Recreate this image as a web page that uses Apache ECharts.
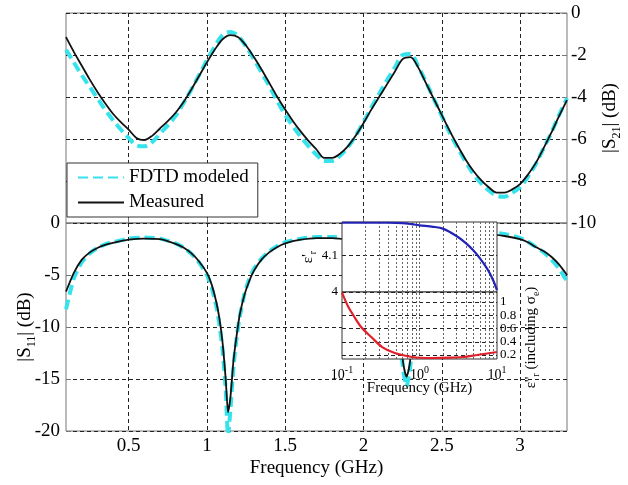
<!DOCTYPE html>
<html><head><meta charset="utf-8">
<script src="https://cdn.jsdelivr.net/npm/echarts@6/dist/echarts.min.js"></script>
<style>html,body{margin:0;padding:0;background:#fff}#c{width:628px;height:485px}</style>
</head><body><div id="c"></div>
<script>
// ---- data ----
const freqS21 = [0.1,0.15,0.2,0.25,0.3,0.35,0.4,0.45,0.5,0.55,0.6,0.65,0.7,0.75,0.8,0.85,0.9,0.95,1.0,1.05,1.1,1.15,1.2,1.25,1.3,1.35,1.4,1.45,1.5,1.55,1.6,1.65,1.7,1.75,1.8,1.85,1.9,1.95,2.0,2.05,2.1,2.15,2.2,2.25,2.3,2.35,2.4,2.45,2.5,2.55,2.6,2.65,2.7,2.75,2.8,2.85,2.9,2.95,3.0,3.05,3.1,3.15,3.2,3.25,3.3];
const s21Measured = [-1.15,-1.85,-2.5,-3.15,-3.75,-4.3,-4.8,-5.2,-5.55,-5.95,-6.05,-5.85,-5.5,-5.15,-4.75,-4.25,-3.65,-3.0,-2.35,-1.75,-1.25,-1.05,-1.15,-1.55,-2.1,-2.7,-3.35,-4.0,-4.6,-5.15,-5.65,-6.1,-6.5,-6.9,-6.9,-6.7,-6.35,-5.85,-5.25,-4.6,-4.0,-3.4,-2.8,-2.2,-2.1,-2.6,-3.35,-4.1,-4.85,-5.6,-6.3,-6.95,-7.5,-7.95,-8.3,-8.55,-8.55,-8.4,-8.15,-7.7,-7.15,-6.45,-5.7,-4.9,-4.15];
const s21Fdtd = [-1.75,-2.35,-2.95,-3.5,-4.05,-4.6,-5.1,-5.55,-5.95,-6.3,-6.35,-6.15,-5.75,-5.35,-4.9,-4.3,-3.65,-2.95,-2.25,-1.6,-1.05,-0.9,-1.1,-1.6,-2.2,-2.85,-3.5,-4.2,-4.85,-5.4,-5.9,-6.35,-6.75,-7.05,-7.05,-6.8,-6.4,-5.85,-5.2,-4.5,-3.85,-3.2,-2.6,-2.0,-1.95,-2.55,-3.3,-4.1,-4.9,-5.7,-6.4,-7.05,-7.65,-8.1,-8.45,-8.7,-8.75,-8.55,-8.3,-7.8,-7.2,-6.45,-5.7,-4.85,-4.05];

const freqS11 = [0.1,0.15,0.2,0.25,0.3,0.35,0.4,0.5,0.6,0.7,0.8,0.85,0.9,0.95,1.0,1.03,1.06,1.08,1.1,1.12,1.135,1.15,1.17,1.19,1.21,1.24,1.27,1.3,1.35,1.4,1.45,1.5,1.6,1.7,1.8,1.9,2.0,2.05,2.1,2.15,2.18,2.21,2.24,2.255,2.275,2.295,2.31,2.34,2.37,2.4,2.45,2.5,2.6,2.7,2.8,2.9,3.0,3.05,3.1,3.15,3.2,3.25,3.3];
const s11Measured = [-6.6,-4.8,-3.55,-2.85,-2.4,-2.1,-1.9,-1.6,-1.5,-1.55,-2.0,-2.35,-2.9,-3.7,-4.8,-5.9,-7.6,-9.2,-11.5,-15.0,-18.2,-16.8,-13.2,-10.8,-8.8,-6.9,-5.6,-4.6,-3.5,-2.8,-2.3,-1.95,-1.6,-1.45,-1.45,-1.6,-1.9,-2.2,-2.8,-3.9,-5.0,-7.5,-11.5,-13.6,-14.8,-13.6,-11.5,-7.5,-5.0,-3.9,-2.7,-2.0,-1.45,-1.2,-1.1,-1.25,-1.55,-1.85,-2.3,-2.7,-3.25,-4.0,-5.0];
const s11Fdtd = [-8.3,-5.3,-3.8,-2.95,-2.4,-2.05,-1.85,-1.5,-1.4,-1.5,-1.95,-2.35,-2.95,-3.8,-5.0,-6.2,-8.0,-9.8,-12.2,-16.0,-20.5,-18.0,-13.8,-11.0,-9.0,-6.8,-5.4,-4.4,-3.4,-2.7,-2.2,-1.85,-1.5,-1.35,-1.35,-1.5,-1.8,-2.1,-2.7,-3.8,-5.0,-7.8,-12.0,-14.3,-15.7,-14.3,-12.0,-7.8,-5.0,-3.8,-2.6,-1.9,-1.3,-1.0,-0.9,-1.05,-1.45,-1.8,-2.3,-2.8,-3.5,-4.4,-5.6];

const freqEpsReal = [0.1,0.2,0.4,0.6,0.8,1,1.5,2,3,4,5,6,7,8,9,10];
const epsReal = [4.188,4.188,4.188,4.187,4.184,4.181,4.177,4.172,4.152,4.132,4.112,4.092,4.072,4.052,4.03,4.005];
const freqEpsImag = [0.1,0.12,0.147,0.18,0.244,0.33,0.48,0.8,1.45,2.5,3.6,5.5,10];
const epsImag = [1.14,0.93,0.76,0.61,0.46,0.32,0.23,0.17,0.155,0.16,0.17,0.2,0.245];

const mainTicksX = [0.5,1,1.5,2,2.5,3];
const insetMinorX = [0.2,0.3,0.4,0.5,0.6,0.7,0.8,0.9,1,2,3,4,5,6,7,8,9];
const insetTicksReal = [4, 4.1];
const insetTicksImag = [0.2,0.4,0.6,0.8,1];

// ---- chart ----
const zip = (xs, ys) => xs.map((x, i) => [x, ys[i]]);
const FF = 'Liberation Serif';
const CYAN = '#36e3ec';
const gridDash = {show: true, lineStyle: {color: '#222', type: [4, 3], width: 1}};
const mainLbl = {color: '#000', fontFamily: FF, fontSize: 19};
const insLbl = {color: '#000', fontFamily: FF, fontSize: 13, lineHeight: 13,
  showMinLabel: true, showMaxLabel: true, hideOverlap: false};
const richMain = {
  n: {fontFamily: FF, fontSize: 19, lineHeight: 26, color: '#000'},
  s: {fontFamily: FF, fontSize: 12, lineHeight: 12, verticalAlign: 'bottom', color: '#000'}
};
const richIns = {
  n: {fontFamily: FF, fontSize: 15, lineHeight: 20, color: '#000'},
  s: {fontFamily: FF, fontSize: 10, lineHeight: 10, verticalAlign: 'bottom', color: '#000'}
};

const minorLines = {
  silent: true, z: 6, animation: false,
  symbol: ['none', 'none'], label: {show: false},
  lineStyle: {color: '#666', type: [2, 2], width: 1},
  emphasis: {disabled: true},
  data: insetMinorX.map(v => ({xAxis: v}))
};

const option = {
  animation: false,
  backgroundColor: '#fff',
  grid: [
    {left: 66, top: 13, width: 501, height: 210, show: true, borderColor: '#777', borderWidth: 1, outerBoundsMode: 'none'},
    {left: 66, top: 223, width: 501, height: 208, show: true, borderColor: '#777', borderWidth: 1, outerBoundsMode: 'none'},
    {left: 342, top: 222, width: 155, height: 70, show: true, backgroundColor: '#fff', borderColor: '#333', borderWidth: 1, z: 5, outerBoundsMode: 'none'},
    {left: 342, top: 292, width: 155, height: 67, show: true, backgroundColor: '#fff', borderColor: '#333', borderWidth: 1, z: 5, outerBoundsMode: 'none'}
  ],
  legend: {
    orient: 'vertical', left: 67, top: 163,
    data: ['FDTD modeled', 'Measured'],
    itemWidth: 46, itemHeight: 14, itemGap: 6,
    padding: [5, 9, 5, 10],
    itemStyle: {opacity: 0},
    backgroundColor: '#fff', borderColor: '#333', borderWidth: 1, borderRadius: 0,
    textStyle: {fontFamily: FF, fontSize: 19, color: '#000'},
    selectedMode: false
  },
  xAxis: [
    {gridIndex: 0, type: 'value', min: 0.1, max: 3.3,
     axisLine: {show: false}, axisLabel: {show: false},
     axisTick: {show: false, customValues: mainTicksX}, splitLine: gridDash},
    {gridIndex: 1, type: 'value', min: 0.1, max: 3.3,
     axisLine: {show: false},
     axisTick: {show: true, inside: true, length: 5, lineStyle: {color: '#777'}, customValues: mainTicksX},
     axisLabel: Object.assign({margin: 6, customValues: mainTicksX}, mainLbl),
     splitLine: gridDash,
     name: 'Frequency (GHz)', nameLocation: 'middle', nameGap: 28, nameMoveOverlap: false,
     nameTextStyle: {fontFamily: FF, fontSize: 19, color: '#000'}},
    {gridIndex: 2, type: 'log', logBase: 10, min: 0.1, max: 10, z: 6,
     axisLine: {show: false}, axisLabel: {show: false}, axisTick: {show: false}, splitLine: {show: false}},
    {gridIndex: 3, type: 'log', logBase: 10, min: 0.1, max: 10, z: 6,
     axisLine: {show: false}, axisTick: {show: false}, splitLine: {show: false},
     axisLabel: {margin: 6, showMinLabel: true, showMaxLabel: true,
       formatter: v => '{b|10}{p|' + Math.round(Math.log10(v)) + '}',
       rich: {b: {fontFamily: FF, fontSize: 14, lineHeight: 20, color: '#000'},
              p: {fontFamily: FF, fontSize: 10, lineHeight: 10, verticalAlign: 'top', color: '#000'}}},
     name: 'Frequency (GHz)', nameLocation: 'middle', nameGap: 22, nameMoveOverlap: false,
     nameTextStyle: {fontFamily: FF, fontSize: 15, color: '#000'}}
  ],
  yAxis: [
    {gridIndex: 0, type: 'value', position: 'right', min: -10, max: 0, interval: 2,
     axisLine: {show: false},
     axisTick: {show: true, inside: true, length: 5, lineStyle: {color: '#777'}},
     axisLabel: Object.assign({margin: 4}, mainLbl),
     splitLine: gridDash,
     name: '{n||S}{s|21}{n|| (dB)}', nameLocation: 'middle', nameRotate: 90, nameGap: 30, nameMoveOverlap: false,
     nameTextStyle: {rich: richMain}},
    {gridIndex: 1, type: 'value', position: 'left', min: -20, max: 0, interval: 5,
     axisLine: {show: false},
     axisTick: {show: true, inside: true, length: 5, lineStyle: {color: '#777'}},
     axisLabel: Object.assign({margin: 6}, mainLbl),
     splitLine: gridDash,
     name: '{n||S}{s|11}{n|| (dB)}', nameLocation: 'middle', nameRotate: 90, nameGap: 28, nameMoveOverlap: false,
     nameTextStyle: {rich: richMain}},
    {gridIndex: 2, type: 'value', position: 'left', min: 4, max: 4.19, z: 6,
     axisLine: {show: false},
     axisTick: {show: false, customValues: insetTicksReal},
     axisLabel: Object.assign({margin: 4, customValues: insetTicksReal}, insLbl),
     splitLine: {show: true, lineStyle: {color: '#222', type: [4, 3], width: 1}},
     name: "{n|ε'}{s|r}", nameLocation: 'middle', nameRotate: 90, nameGap: 24, nameMoveOverlap: false,
     nameTextStyle: {rich: richIns}},
    {gridIndex: 3, type: 'value', position: 'right', min: 0.14, max: 1.15, z: 6,
     axisLine: {show: false},
     axisTick: {show: false, customValues: insetTicksImag},
     axisLabel: Object.assign({margin: 3, customValues: insetTicksImag}, insLbl),
     splitLine: {show: true, lineStyle: {color: '#222', type: [4, 3], width: 1}},
     name: "{n|ε''}{s|r}{n| (including σ}{s|e}{n|)}", nameLocation: 'middle', nameRotate: 90, nameGap: 24, nameMoveOverlap: false,
     nameTextStyle: {rich: richIns, padding: [0, 24, 0, 0]}}
  ],
  series: [
    {name: 'FDTD modeled', type: 'line', xAxisIndex: 0, yAxisIndex: 0, z: 2,
     data: zip(freqS21, s21Fdtd), symbol: 'none', smooth: 0.35,
     lineStyle: {color: CYAN, width: 4, type: [10, 5]}, itemStyle: {color: CYAN}},
    {name: 'Measured', type: 'line', xAxisIndex: 0, yAxisIndex: 0, z: 3,
     data: zip(freqS21, s21Measured), symbol: 'none', smooth: 0.3,
     lineStyle: {color: '#111', width: 1.8}, itemStyle: {color: '#111'}},
    {name: 'FDTD modeled', type: 'line', xAxisIndex: 1, yAxisIndex: 1, z: 2,
     data: zip(freqS11, s11Fdtd), symbol: 'none', smooth: 0.2,
     lineStyle: {color: CYAN, width: 4, type: [10, 5]}, itemStyle: {color: CYAN}},
    {name: 'Measured', type: 'line', xAxisIndex: 1, yAxisIndex: 1, z: 3,
     data: zip(freqS11, s11Measured), symbol: 'none', smooth: 0.2,
     lineStyle: {color: '#111', width: 1.8}, itemStyle: {color: '#111'}},
    {name: 'epsReal', type: 'line', xAxisIndex: 2, yAxisIndex: 2, z: 8,
     data: zip(freqEpsReal, epsReal), symbol: 'none', smooth: 0.3,
     lineStyle: {color: '#2323b5', width: 2.2}, markLine: minorLines},
    {name: 'epsImag', type: 'line', xAxisIndex: 3, yAxisIndex: 3, z: 8,
     data: zip(freqEpsImag, epsImag), symbol: 'none', smooth: 0.3,
     lineStyle: {color: '#e0212b', width: 2.2}, markLine: minorLines}
  ]
};
echarts.init(document.getElementById('c'), null, {renderer: 'canvas'}).setOption(option);
</script></body></html>
